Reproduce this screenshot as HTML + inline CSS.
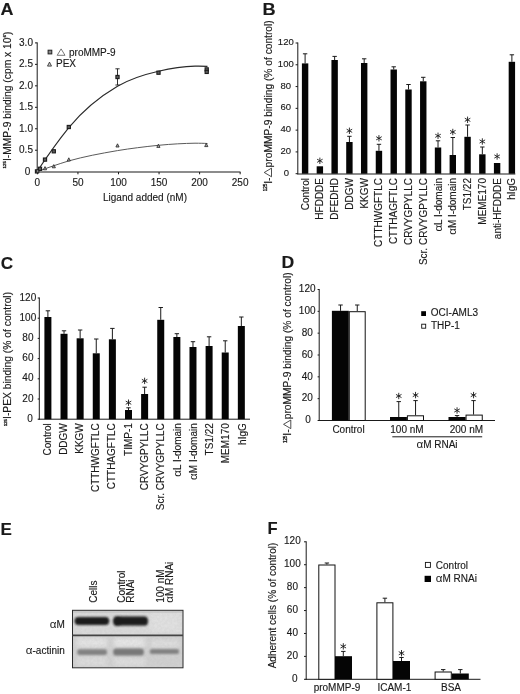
<!DOCTYPE html>
<html><head><meta charset="utf-8"><title>Figure</title>
<style>
html,body{margin:0;padding:0;background:#fff;}
body{width:520px;height:694px;overflow:hidden;}
svg{display:block;filter:grayscale(1);}
svg text{font-family:"Liberation Sans",sans-serif;fill:#1a1a1a;stroke:#1a1a1a;stroke-width:0.14px;}
</style></head><body>
<svg width="520" height="694" viewBox="0 0 520 694">
<rect x="0" y="0" width="520" height="694" fill="#ffffff"/>
<text transform="translate(0.5,15.0) scale(1.09,1)" font-size="16.5" font-weight="bold">A</text>
<text transform="translate(262.6,14.6) scale(1.1,1)" font-size="16.5" font-weight="bold">B</text>
<text transform="translate(0.7,268.8) scale(1.04,1)" font-size="16.5" font-weight="bold">C</text>
<text transform="translate(281.6,267.5) scale(1.07,1)" font-size="16.5" font-weight="bold">D</text>
<text transform="translate(0.4,534.9) scale(1.03,1)" font-size="16.5" font-weight="bold">E</text>
<text transform="translate(267.4,534.3) scale(1.0,1)" font-size="16.5" font-weight="bold">F</text>
<line x1="37.20" y1="42.40" x2="37.20" y2="172.20" stroke="#1a1a1a" stroke-width="1"/>
<line x1="35.00" y1="171.70" x2="37.20" y2="171.70" stroke="#1a1a1a" stroke-width="1"/>
<text x="27.50" y="174.68" text-anchor="middle" font-size="10.0" font-weight="normal" >0</text>
<line x1="35.00" y1="150.23" x2="37.20" y2="150.23" stroke="#1a1a1a" stroke-width="1"/>
<text x="26.00" y="153.21" text-anchor="middle" font-size="10.0" font-weight="normal" >0.5</text>
<line x1="35.00" y1="128.77" x2="37.20" y2="128.77" stroke="#1a1a1a" stroke-width="1"/>
<text x="26.00" y="131.75" text-anchor="middle" font-size="10.0" font-weight="normal" >1.0</text>
<line x1="35.00" y1="107.30" x2="37.20" y2="107.30" stroke="#1a1a1a" stroke-width="1"/>
<text x="26.00" y="110.28" text-anchor="middle" font-size="10.0" font-weight="normal" >1.5</text>
<line x1="35.00" y1="85.83" x2="37.20" y2="85.83" stroke="#1a1a1a" stroke-width="1"/>
<text x="26.00" y="88.81" text-anchor="middle" font-size="10.0" font-weight="normal" >2.0</text>
<line x1="35.00" y1="64.37" x2="37.20" y2="64.37" stroke="#1a1a1a" stroke-width="1"/>
<text x="26.00" y="67.35" text-anchor="middle" font-size="10.0" font-weight="normal" >2.5</text>
<line x1="35.00" y1="42.90" x2="37.20" y2="42.90" stroke="#1a1a1a" stroke-width="1"/>
<text x="26.00" y="45.88" text-anchor="middle" font-size="10.0" font-weight="normal" >3.0</text>
<line x1="36.70" y1="172.00" x2="240.50" y2="172.00" stroke="#1a1a1a" stroke-width="1.1"/>
<line x1="37.40" y1="172.00" x2="37.40" y2="174.30" stroke="#1a1a1a" stroke-width="1"/>
<text x="37.40" y="186.10" text-anchor="middle" font-size="10.0" font-weight="normal" >0</text>
<line x1="77.95" y1="172.00" x2="77.95" y2="174.30" stroke="#1a1a1a" stroke-width="1"/>
<text x="77.95" y="186.10" text-anchor="middle" font-size="10.0" font-weight="normal" >50</text>
<line x1="118.50" y1="172.00" x2="118.50" y2="174.30" stroke="#1a1a1a" stroke-width="1"/>
<text x="118.50" y="186.10" text-anchor="middle" font-size="10.0" font-weight="normal" >100</text>
<line x1="159.05" y1="172.00" x2="159.05" y2="174.30" stroke="#1a1a1a" stroke-width="1"/>
<text x="159.05" y="186.10" text-anchor="middle" font-size="10.0" font-weight="normal" >150</text>
<line x1="199.60" y1="172.00" x2="199.60" y2="174.30" stroke="#1a1a1a" stroke-width="1"/>
<text x="199.60" y="186.10" text-anchor="middle" font-size="10.0" font-weight="normal" >200</text>
<line x1="240.15" y1="172.00" x2="240.15" y2="174.30" stroke="#1a1a1a" stroke-width="1"/>
<text x="240.15" y="186.10" text-anchor="middle" font-size="10.0" font-weight="normal" >250</text>
<text x="145.00" y="201.00" text-anchor="middle" font-size="10.0" font-weight="normal" >Ligand added (nM)</text>
<text transform="translate(10.6,168.4) rotate(-90)" font-size="10.3"><tspan font-size="4.4" dy="-4.2" stroke-width="0.3">125</tspan><tspan dy="4.2">I-MMP-9</tspan><tspan> binding (cpm x 10</tspan><tspan font-size="4.4" dy="-4.2" stroke-width="0.3">6</tspan><tspan dy="4.2">)</tspan></text>
<path d="M36.9,171.7 C 48,155 58,141 68.8,127.6 C 84,109 100,96.5 117.5,86.2 C 131,78.3 144,74.5 158.5,71.2 C 172,68 184,66.4 195,66.1 C 200,66 204,66.1 207.5,66.4" fill="none" stroke="#2a2a2a" stroke-width="1.15"/>
<path d="M36.9,171.7 C 48,167.6 58,164.2 68.8,160.9 C 84,156.6 100,153.6 117.5,150.6 C 131,148.4 144,146.8 158.5,145.3 C 172,144 184,143.4 195,143.2 C 200,143.2 204,143.3 207.5,143.5" fill="none" stroke="#5a5a5a" stroke-width="1.0"/>
<line x1="117.50" y1="68.80" x2="117.50" y2="85.00" stroke="#1a1a1a" stroke-width="0.9"/>
<line x1="115.40" y1="68.80" x2="119.60" y2="68.80" stroke="#1a1a1a" stroke-width="0.9"/>
<line x1="115.40" y1="85.00" x2="119.60" y2="85.00" stroke="#1a1a1a" stroke-width="0.9"/>
<rect x="35.40" y="169.80" width="3.20" height="3.20" fill="#5c5c5c" stroke="#1c1c1c" stroke-width="1.1"/>
<rect x="38.40" y="167.20" width="3.20" height="3.20" fill="#5c5c5c" stroke="#1c1c1c" stroke-width="1.1"/>
<rect x="43.40" y="158.00" width="3.20" height="3.20" fill="#5c5c5c" stroke="#1c1c1c" stroke-width="1.1"/>
<rect x="52.20" y="149.70" width="3.20" height="3.20" fill="#5c5c5c" stroke="#1c1c1c" stroke-width="1.1"/>
<rect x="67.20" y="125.40" width="3.20" height="3.20" fill="#5c5c5c" stroke="#1c1c1c" stroke-width="1.1"/>
<rect x="115.90" y="75.40" width="3.20" height="3.20" fill="#5c5c5c" stroke="#1c1c1c" stroke-width="1.1"/>
<rect x="156.90" y="71.10" width="3.20" height="3.20" fill="#5c5c5c" stroke="#1c1c1c" stroke-width="1.1"/>
<rect x="205.10" y="67.80" width="3.20" height="3.20" fill="#5c5c5c" stroke="#1c1c1c" stroke-width="1.1"/>
<rect x="205.10" y="70.30" width="3.20" height="3.20" fill="#5c5c5c" stroke="#1c1c1c" stroke-width="1.1"/>
<path d="M36.00,172.20 L39.20,172.20 L37.60,169.00 Z" fill="#aaa" stroke="#222" stroke-width="0.8"/>
<path d="M43.40,169.80 L46.60,169.80 L45.00,166.60 Z" fill="#aaa" stroke="#222" stroke-width="0.8"/>
<path d="M52.20,167.80 L55.40,167.80 L53.80,164.60 Z" fill="#aaa" stroke="#222" stroke-width="0.8"/>
<path d="M67.20,161.00 L70.40,161.00 L68.80,157.80 Z" fill="#aaa" stroke="#222" stroke-width="0.8"/>
<path d="M115.90,147.00 L119.10,147.00 L117.50,143.80 Z" fill="#aaa" stroke="#222" stroke-width="0.8"/>
<path d="M156.80,147.40 L160.00,147.40 L158.40,144.20 Z" fill="#aaa" stroke="#222" stroke-width="0.8"/>
<path d="M204.70,146.60 L207.90,146.60 L206.30,143.40 Z" fill="#aaa" stroke="#222" stroke-width="0.8"/>
<rect x="48.10" y="50.20" width="3.70" height="3.70" fill="#8a8a8a" stroke="#222" stroke-width="1.0"/>
<path d="M57.2,55.3 L65.0,55.3 L61.1,48.9 Z" fill="none" stroke="#555" stroke-width="0.8"/>
<text x="69.00" y="55.50" text-anchor="start" font-size="10.0" font-weight="normal" >proMMP-9</text>
<path d="M47.50,66.10 L51.50,66.10 L49.50,62.10 Z" fill="#ccc" stroke="#222" stroke-width="0.8"/>
<text x="56.00" y="66.50" text-anchor="start" font-size="10.0" font-weight="normal" >PEX</text>
<line x1="297.80" y1="42.50" x2="297.80" y2="174.20" stroke="#1a1a1a" stroke-width="1"/>
<line x1="295.60" y1="173.70" x2="297.80" y2="173.70" stroke="#1a1a1a" stroke-width="1"/>
<text x="286.40" y="175.80" text-anchor="middle" font-size="9.5" font-weight="normal" >0</text>
<line x1="295.60" y1="151.92" x2="297.80" y2="151.92" stroke="#1a1a1a" stroke-width="1"/>
<text x="285.80" y="154.02" text-anchor="middle" font-size="9.5" font-weight="normal" >20</text>
<line x1="295.60" y1="130.13" x2="297.80" y2="130.13" stroke="#1a1a1a" stroke-width="1"/>
<text x="285.80" y="132.23" text-anchor="middle" font-size="9.5" font-weight="normal" >40</text>
<line x1="295.60" y1="108.35" x2="297.80" y2="108.35" stroke="#1a1a1a" stroke-width="1"/>
<text x="285.80" y="110.45" text-anchor="middle" font-size="9.5" font-weight="normal" >60</text>
<line x1="295.60" y1="86.57" x2="297.80" y2="86.57" stroke="#1a1a1a" stroke-width="1"/>
<text x="285.80" y="88.67" text-anchor="middle" font-size="9.5" font-weight="normal" >80</text>
<line x1="295.60" y1="64.78" x2="297.80" y2="64.78" stroke="#1a1a1a" stroke-width="1"/>
<text x="285.80" y="66.88" text-anchor="middle" font-size="9.5" font-weight="normal" >100</text>
<line x1="295.60" y1="43.00" x2="297.80" y2="43.00" stroke="#1a1a1a" stroke-width="1"/>
<text x="285.80" y="45.10" text-anchor="middle" font-size="9.5" font-weight="normal" >120</text>
<line x1="297.30" y1="174.00" x2="515.30" y2="174.00" stroke="#1a1a1a" stroke-width="1.1"/>
<text transform="translate(308.60,178.00) rotate(-90)" text-anchor="end" font-size="10.0" font-weight="normal" >Control</text>
<text transform="translate(323.37,178.00) rotate(-90)" text-anchor="end" font-size="10.0" font-weight="normal" >HFDDDE</text>
<text transform="translate(338.14,178.00) rotate(-90)" text-anchor="end" font-size="10.0" font-weight="normal" >DFEDHD</text>
<text transform="translate(352.91,178.00) rotate(-90)" text-anchor="end" font-size="10.0" font-weight="normal" >DDGW</text>
<text transform="translate(367.68,178.00) rotate(-90)" text-anchor="end" font-size="10.0" font-weight="normal" >KKGW</text>
<text transform="translate(382.45,178.00) rotate(-90)" text-anchor="end" font-size="10.0" font-weight="normal" >CTTHWGFTLC</text>
<text transform="translate(397.22,178.00) rotate(-90)" text-anchor="end" font-size="10.0" font-weight="normal" >CTTHAGFTLC</text>
<text transform="translate(411.99,178.00) rotate(-90)" text-anchor="end" font-size="10.0" font-weight="normal" >CRVYGPYLLC</text>
<text transform="translate(426.76,178.00) rotate(-90)" text-anchor="end" font-size="10.0" font-weight="normal" >Scr. CRVYGPYLLC</text>
<text transform="translate(441.53,178.00) rotate(-90)" text-anchor="end" font-size="10.0" font-weight="normal" ><tspan font-size="11.6" stroke-width="0">α</tspan>L I-domain</text>
<text transform="translate(456.30,178.00) rotate(-90)" text-anchor="end" font-size="10.0" font-weight="normal" ><tspan font-size="11.6" stroke-width="0">α</tspan>M I-domain</text>
<text transform="translate(471.07,178.00) rotate(-90)" text-anchor="end" font-size="10.0" font-weight="normal" >TS1/22</text>
<text transform="translate(485.84,178.00) rotate(-90)" text-anchor="end" font-size="10.0" font-weight="normal" >MEME170</text>
<text transform="translate(500.61,178.00) rotate(-90)" text-anchor="end" font-size="10.0" font-weight="normal" >anti-HFDDDE</text>
<text transform="translate(515.38,178.00) rotate(-90)" text-anchor="end" font-size="10.0" font-weight="normal" >hIgG</text>
<line x1="305.10" y1="53.80" x2="305.10" y2="63.40" stroke="#1a1a1a" stroke-width="1"/>
<line x1="302.90" y1="53.80" x2="307.30" y2="53.80" stroke="#1a1a1a" stroke-width="1"/>
<rect x="301.90" y="63.40" width="6.40" height="110.30" fill="#050505"/>
<rect x="316.67" y="166.30" width="6.40" height="7.40" fill="#050505"/>
<line x1="319.87" y1="157.60" x2="319.87" y2="164.00" stroke="#1a1a1a" stroke-width="0.9"/>
<line x1="317.10" y1="159.20" x2="322.64" y2="162.40" stroke="#1a1a1a" stroke-width="0.9"/>
<line x1="322.64" y1="159.20" x2="317.10" y2="162.40" stroke="#1a1a1a" stroke-width="0.9"/>
<line x1="334.64" y1="56.40" x2="334.64" y2="60.00" stroke="#1a1a1a" stroke-width="1"/>
<line x1="332.44" y1="56.40" x2="336.84" y2="56.40" stroke="#1a1a1a" stroke-width="1"/>
<rect x="331.44" y="60.00" width="6.40" height="113.70" fill="#050505"/>
<line x1="349.41" y1="136.30" x2="349.41" y2="142.00" stroke="#1a1a1a" stroke-width="1"/>
<line x1="347.21" y1="136.30" x2="351.61" y2="136.30" stroke="#1a1a1a" stroke-width="1"/>
<rect x="346.21" y="142.00" width="6.40" height="31.70" fill="#050505"/>
<line x1="349.41" y1="127.60" x2="349.41" y2="134.00" stroke="#1a1a1a" stroke-width="0.9"/>
<line x1="346.64" y1="129.20" x2="352.18" y2="132.40" stroke="#1a1a1a" stroke-width="0.9"/>
<line x1="352.18" y1="129.20" x2="346.64" y2="132.40" stroke="#1a1a1a" stroke-width="0.9"/>
<line x1="364.18" y1="58.80" x2="364.18" y2="63.00" stroke="#1a1a1a" stroke-width="1"/>
<line x1="361.98" y1="58.80" x2="366.38" y2="58.80" stroke="#1a1a1a" stroke-width="1"/>
<rect x="360.98" y="63.00" width="6.40" height="110.70" fill="#050505"/>
<line x1="378.95" y1="144.30" x2="378.95" y2="150.80" stroke="#1a1a1a" stroke-width="1"/>
<line x1="376.75" y1="144.30" x2="381.15" y2="144.30" stroke="#1a1a1a" stroke-width="1"/>
<rect x="375.75" y="150.80" width="6.40" height="22.90" fill="#050505"/>
<line x1="378.95" y1="135.10" x2="378.95" y2="141.50" stroke="#1a1a1a" stroke-width="0.9"/>
<line x1="376.18" y1="136.70" x2="381.72" y2="139.90" stroke="#1a1a1a" stroke-width="0.9"/>
<line x1="381.72" y1="136.70" x2="376.18" y2="139.90" stroke="#1a1a1a" stroke-width="0.9"/>
<line x1="393.72" y1="66.80" x2="393.72" y2="69.50" stroke="#1a1a1a" stroke-width="1"/>
<line x1="391.52" y1="66.80" x2="395.92" y2="66.80" stroke="#1a1a1a" stroke-width="1"/>
<rect x="390.52" y="69.50" width="6.40" height="104.20" fill="#050505"/>
<line x1="408.49" y1="84.50" x2="408.49" y2="89.50" stroke="#1a1a1a" stroke-width="1"/>
<line x1="406.29" y1="84.50" x2="410.69" y2="84.50" stroke="#1a1a1a" stroke-width="1"/>
<rect x="405.29" y="89.50" width="6.40" height="84.20" fill="#050505"/>
<line x1="423.26" y1="77.30" x2="423.26" y2="81.30" stroke="#1a1a1a" stroke-width="1"/>
<line x1="421.06" y1="77.30" x2="425.46" y2="77.30" stroke="#1a1a1a" stroke-width="1"/>
<rect x="420.06" y="81.30" width="6.40" height="92.40" fill="#050505"/>
<line x1="438.03" y1="140.80" x2="438.03" y2="147.50" stroke="#1a1a1a" stroke-width="1"/>
<line x1="435.83" y1="140.80" x2="440.23" y2="140.80" stroke="#1a1a1a" stroke-width="1"/>
<rect x="434.83" y="147.50" width="6.40" height="26.20" fill="#050505"/>
<line x1="438.03" y1="132.60" x2="438.03" y2="139.00" stroke="#1a1a1a" stroke-width="0.9"/>
<line x1="435.26" y1="134.20" x2="440.80" y2="137.40" stroke="#1a1a1a" stroke-width="0.9"/>
<line x1="440.80" y1="134.20" x2="435.26" y2="137.40" stroke="#1a1a1a" stroke-width="0.9"/>
<line x1="452.80" y1="137.50" x2="452.80" y2="155.00" stroke="#1a1a1a" stroke-width="1"/>
<line x1="450.60" y1="137.50" x2="455.00" y2="137.50" stroke="#1a1a1a" stroke-width="1"/>
<rect x="449.60" y="155.00" width="6.40" height="18.70" fill="#050505"/>
<line x1="452.80" y1="128.80" x2="452.80" y2="135.20" stroke="#1a1a1a" stroke-width="0.9"/>
<line x1="450.03" y1="130.40" x2="455.57" y2="133.60" stroke="#1a1a1a" stroke-width="0.9"/>
<line x1="455.57" y1="130.40" x2="450.03" y2="133.60" stroke="#1a1a1a" stroke-width="0.9"/>
<line x1="467.57" y1="125.00" x2="467.57" y2="136.80" stroke="#1a1a1a" stroke-width="1"/>
<line x1="465.37" y1="125.00" x2="469.77" y2="125.00" stroke="#1a1a1a" stroke-width="1"/>
<rect x="464.37" y="136.80" width="6.40" height="36.90" fill="#050505"/>
<line x1="467.57" y1="116.60" x2="467.57" y2="123.00" stroke="#1a1a1a" stroke-width="0.9"/>
<line x1="464.80" y1="118.20" x2="470.34" y2="121.40" stroke="#1a1a1a" stroke-width="0.9"/>
<line x1="470.34" y1="118.20" x2="464.80" y2="121.40" stroke="#1a1a1a" stroke-width="0.9"/>
<line x1="482.34" y1="147.00" x2="482.34" y2="154.30" stroke="#1a1a1a" stroke-width="1"/>
<line x1="480.14" y1="147.00" x2="484.54" y2="147.00" stroke="#1a1a1a" stroke-width="1"/>
<rect x="479.14" y="154.30" width="6.40" height="19.40" fill="#050505"/>
<line x1="482.34" y1="138.30" x2="482.34" y2="144.70" stroke="#1a1a1a" stroke-width="0.9"/>
<line x1="479.57" y1="139.90" x2="485.11" y2="143.10" stroke="#1a1a1a" stroke-width="0.9"/>
<line x1="485.11" y1="139.90" x2="479.57" y2="143.10" stroke="#1a1a1a" stroke-width="0.9"/>
<rect x="493.91" y="163.00" width="6.40" height="10.70" fill="#050505"/>
<line x1="497.11" y1="153.30" x2="497.11" y2="159.70" stroke="#1a1a1a" stroke-width="0.9"/>
<line x1="494.34" y1="154.90" x2="499.88" y2="158.10" stroke="#1a1a1a" stroke-width="0.9"/>
<line x1="499.88" y1="154.90" x2="494.34" y2="158.10" stroke="#1a1a1a" stroke-width="0.9"/>
<line x1="511.88" y1="54.80" x2="511.88" y2="61.80" stroke="#1a1a1a" stroke-width="1"/>
<line x1="509.68" y1="54.80" x2="514.08" y2="54.80" stroke="#1a1a1a" stroke-width="1"/>
<rect x="508.68" y="61.80" width="6.40" height="111.90" fill="#050505"/>
<g transform="translate(271.70,191.30) rotate(-90)" font-size="10.23"><text x="0" y="0"><tspan font-size="4.50" dy="-4.30" stroke-width="0.3">125</tspan><tspan dy="4.30">I-</tspan></text><path d="M14.51,-0.2 L23.13,-0.2 L18.82,-7.47 Z" fill="none" stroke="#222" stroke-width="0.8"/><text x="23.93" y="0">proMMP-9 binding (% of control)</text></g>
<line x1="39.30" y1="297.50" x2="39.30" y2="419.70" stroke="#1a1a1a" stroke-width="1"/>
<line x1="37.70" y1="419.20" x2="39.30" y2="419.20" stroke="#1a1a1a" stroke-width="1"/>
<text x="30.00" y="421.78" text-anchor="middle" font-size="10.0" font-weight="normal" >0</text>
<line x1="37.70" y1="399.00" x2="39.30" y2="399.00" stroke="#1a1a1a" stroke-width="1"/>
<text x="27.90" y="401.58" text-anchor="middle" font-size="10.0" font-weight="normal" >20</text>
<line x1="37.70" y1="378.80" x2="39.30" y2="378.80" stroke="#1a1a1a" stroke-width="1"/>
<text x="27.90" y="381.38" text-anchor="middle" font-size="10.0" font-weight="normal" >40</text>
<line x1="37.70" y1="358.60" x2="39.30" y2="358.60" stroke="#1a1a1a" stroke-width="1"/>
<text x="27.90" y="361.18" text-anchor="middle" font-size="10.0" font-weight="normal" >60</text>
<line x1="37.70" y1="338.40" x2="39.30" y2="338.40" stroke="#1a1a1a" stroke-width="1"/>
<text x="27.90" y="340.98" text-anchor="middle" font-size="10.0" font-weight="normal" >80</text>
<line x1="37.70" y1="318.20" x2="39.30" y2="318.20" stroke="#1a1a1a" stroke-width="1"/>
<text x="27.90" y="320.78" text-anchor="middle" font-size="10.0" font-weight="normal" >100</text>
<line x1="37.70" y1="298.00" x2="39.30" y2="298.00" stroke="#1a1a1a" stroke-width="1"/>
<text x="27.90" y="300.58" text-anchor="middle" font-size="10.0" font-weight="normal" >120</text>
<line x1="38.80" y1="419.20" x2="250.00" y2="419.20" stroke="#1a1a1a" stroke-width="1"/>
<text transform="translate(51.00,423.20) rotate(-90)" text-anchor="end" font-size="10.0" font-weight="normal" >Control</text>
<text transform="translate(67.12,423.20) rotate(-90)" text-anchor="end" font-size="10.0" font-weight="normal" >DDGW</text>
<text transform="translate(83.24,423.20) rotate(-90)" text-anchor="end" font-size="10.0" font-weight="normal" >KKGW</text>
<text transform="translate(99.36,423.20) rotate(-90)" text-anchor="end" font-size="10.0" font-weight="normal" >CTTHWGFTLC</text>
<text transform="translate(115.48,423.20) rotate(-90)" text-anchor="end" font-size="10.0" font-weight="normal" >CTTHAGFTLC</text>
<text transform="translate(131.60,423.20) rotate(-90)" text-anchor="end" font-size="10.0" font-weight="normal" >TIMP-1</text>
<text transform="translate(147.72,423.20) rotate(-90)" text-anchor="end" font-size="10.0" font-weight="normal" >CRVYGPYLLC</text>
<text transform="translate(163.84,423.20) rotate(-90)" text-anchor="end" font-size="10.0" font-weight="normal" >Scr. CRVYGPYLLC</text>
<text transform="translate(181.06,423.20) rotate(-90)" text-anchor="end" font-size="10.0" font-weight="normal" ><tspan font-size="11.6" stroke-width="0">α</tspan>L I-domain</text>
<text transform="translate(197.18,423.20) rotate(-90)" text-anchor="end" font-size="10.0" font-weight="normal" ><tspan font-size="11.6" stroke-width="0">α</tspan>M I-domain</text>
<text transform="translate(213.30,423.20) rotate(-90)" text-anchor="end" font-size="10.0" font-weight="normal" >TS1/22</text>
<text transform="translate(229.42,423.20) rotate(-90)" text-anchor="end" font-size="10.0" font-weight="normal" >MEM170</text>
<text transform="translate(245.54,423.20) rotate(-90)" text-anchor="end" font-size="10.0" font-weight="normal" >hIgG</text>
<line x1="47.90" y1="310.80" x2="47.90" y2="317.00" stroke="#1a1a1a" stroke-width="1"/>
<line x1="45.70" y1="310.80" x2="50.10" y2="310.80" stroke="#1a1a1a" stroke-width="1"/>
<rect x="44.40" y="317.00" width="7.00" height="102.20" fill="#050505"/>
<line x1="64.02" y1="330.80" x2="64.02" y2="333.80" stroke="#1a1a1a" stroke-width="1"/>
<line x1="61.82" y1="330.80" x2="66.22" y2="330.80" stroke="#1a1a1a" stroke-width="1"/>
<rect x="60.52" y="333.80" width="7.00" height="85.40" fill="#050505"/>
<line x1="80.14" y1="330.00" x2="80.14" y2="338.30" stroke="#1a1a1a" stroke-width="1"/>
<line x1="77.94" y1="330.00" x2="82.34" y2="330.00" stroke="#1a1a1a" stroke-width="1"/>
<rect x="76.64" y="338.30" width="7.00" height="80.90" fill="#050505"/>
<line x1="96.26" y1="339.00" x2="96.26" y2="353.30" stroke="#1a1a1a" stroke-width="1"/>
<line x1="94.06" y1="339.00" x2="98.46" y2="339.00" stroke="#1a1a1a" stroke-width="1"/>
<rect x="92.76" y="353.30" width="7.00" height="65.90" fill="#050505"/>
<line x1="112.38" y1="328.40" x2="112.38" y2="339.30" stroke="#1a1a1a" stroke-width="1"/>
<line x1="110.18" y1="328.40" x2="114.58" y2="328.40" stroke="#1a1a1a" stroke-width="1"/>
<rect x="108.88" y="339.30" width="7.00" height="79.90" fill="#050505"/>
<line x1="128.50" y1="407.80" x2="128.50" y2="410.00" stroke="#1a1a1a" stroke-width="1"/>
<line x1="126.30" y1="407.80" x2="130.70" y2="407.80" stroke="#1a1a1a" stroke-width="1"/>
<rect x="125.00" y="410.00" width="7.00" height="9.20" fill="#050505"/>
<line x1="128.50" y1="399.50" x2="128.50" y2="405.90" stroke="#1a1a1a" stroke-width="0.9"/>
<line x1="125.73" y1="401.10" x2="131.27" y2="404.30" stroke="#1a1a1a" stroke-width="0.9"/>
<line x1="131.27" y1="401.10" x2="125.73" y2="404.30" stroke="#1a1a1a" stroke-width="0.9"/>
<line x1="144.62" y1="387.20" x2="144.62" y2="394.00" stroke="#1a1a1a" stroke-width="1"/>
<line x1="142.42" y1="387.20" x2="146.82" y2="387.20" stroke="#1a1a1a" stroke-width="1"/>
<rect x="141.12" y="394.00" width="7.00" height="25.20" fill="#050505"/>
<line x1="144.62" y1="377.70" x2="144.62" y2="384.10" stroke="#1a1a1a" stroke-width="0.9"/>
<line x1="141.85" y1="379.30" x2="147.39" y2="382.50" stroke="#1a1a1a" stroke-width="0.9"/>
<line x1="147.39" y1="379.30" x2="141.85" y2="382.50" stroke="#1a1a1a" stroke-width="0.9"/>
<line x1="160.74" y1="307.50" x2="160.74" y2="319.80" stroke="#1a1a1a" stroke-width="1"/>
<line x1="158.54" y1="307.50" x2="162.94" y2="307.50" stroke="#1a1a1a" stroke-width="1"/>
<rect x="157.24" y="319.80" width="7.00" height="99.40" fill="#050505"/>
<line x1="176.86" y1="333.70" x2="176.86" y2="337.00" stroke="#1a1a1a" stroke-width="1"/>
<line x1="174.66" y1="333.70" x2="179.06" y2="333.70" stroke="#1a1a1a" stroke-width="1"/>
<rect x="173.36" y="337.00" width="7.00" height="82.20" fill="#050505"/>
<line x1="192.98" y1="341.70" x2="192.98" y2="347.00" stroke="#1a1a1a" stroke-width="1"/>
<line x1="190.78" y1="341.70" x2="195.18" y2="341.70" stroke="#1a1a1a" stroke-width="1"/>
<rect x="189.48" y="347.00" width="7.00" height="72.20" fill="#050505"/>
<line x1="209.10" y1="336.80" x2="209.10" y2="346.00" stroke="#1a1a1a" stroke-width="1"/>
<line x1="206.90" y1="336.80" x2="211.30" y2="336.80" stroke="#1a1a1a" stroke-width="1"/>
<rect x="205.60" y="346.00" width="7.00" height="73.20" fill="#050505"/>
<line x1="225.22" y1="340.80" x2="225.22" y2="352.50" stroke="#1a1a1a" stroke-width="1"/>
<line x1="223.02" y1="340.80" x2="227.42" y2="340.80" stroke="#1a1a1a" stroke-width="1"/>
<rect x="221.72" y="352.50" width="7.00" height="66.70" fill="#050505"/>
<line x1="241.34" y1="317.00" x2="241.34" y2="326.00" stroke="#1a1a1a" stroke-width="1"/>
<line x1="239.14" y1="317.00" x2="243.54" y2="317.00" stroke="#1a1a1a" stroke-width="1"/>
<rect x="237.84" y="326.00" width="7.00" height="93.20" fill="#050505"/>
<text transform="translate(10.8,426.3) rotate(-90)" font-size="10.3"><tspan font-size="4.4" dy="-4.2" stroke-width="0.3">125</tspan><tspan dy="4.2">I-PEX binding (% of control)</tspan></text>
<line x1="319.20" y1="289.00" x2="319.20" y2="421.00" stroke="#1a1a1a" stroke-width="1"/>
<line x1="317.60" y1="420.50" x2="319.20" y2="420.50" stroke="#1a1a1a" stroke-width="1"/>
<text x="308.00" y="423.28" text-anchor="middle" font-size="10.0" font-weight="normal" >0</text>
<line x1="317.60" y1="398.67" x2="319.20" y2="398.67" stroke="#1a1a1a" stroke-width="1"/>
<text x="307.20" y="401.45" text-anchor="middle" font-size="10.0" font-weight="normal" >20</text>
<line x1="317.60" y1="376.83" x2="319.20" y2="376.83" stroke="#1a1a1a" stroke-width="1"/>
<text x="307.20" y="379.61" text-anchor="middle" font-size="10.0" font-weight="normal" >40</text>
<line x1="317.60" y1="355.00" x2="319.20" y2="355.00" stroke="#1a1a1a" stroke-width="1"/>
<text x="307.20" y="357.78" text-anchor="middle" font-size="10.0" font-weight="normal" >60</text>
<line x1="317.60" y1="333.17" x2="319.20" y2="333.17" stroke="#1a1a1a" stroke-width="1"/>
<text x="307.20" y="335.95" text-anchor="middle" font-size="10.0" font-weight="normal" >80</text>
<line x1="317.60" y1="311.33" x2="319.20" y2="311.33" stroke="#1a1a1a" stroke-width="1"/>
<text x="307.20" y="314.11" text-anchor="middle" font-size="10.0" font-weight="normal" >100</text>
<line x1="317.60" y1="289.50" x2="319.20" y2="289.50" stroke="#1a1a1a" stroke-width="1"/>
<text x="307.20" y="292.28" text-anchor="middle" font-size="10.0" font-weight="normal" >120</text>
<line x1="318.70" y1="420.50" x2="495.00" y2="420.50" stroke="#1a1a1a" stroke-width="1"/>
<line x1="340.55" y1="305.00" x2="340.55" y2="310.80" stroke="#1a1a1a" stroke-width="1"/>
<line x1="338.35" y1="305.00" x2="342.75" y2="305.00" stroke="#1a1a1a" stroke-width="1"/>
<rect x="331.90" y="310.80" width="16.90" height="109.70" fill="#050505"/>
<line x1="357.25" y1="305.00" x2="357.25" y2="311.20" stroke="#1a1a1a" stroke-width="1"/>
<line x1="355.05" y1="305.00" x2="359.45" y2="305.00" stroke="#1a1a1a" stroke-width="1"/>
<rect x="349.30" y="311.70" width="15.90" height="108.80" fill="#fff" stroke="#111" stroke-width="1"/>
<line x1="398.75" y1="401.60" x2="398.75" y2="417.00" stroke="#1a1a1a" stroke-width="1"/>
<line x1="396.55" y1="401.60" x2="400.95" y2="401.60" stroke="#1a1a1a" stroke-width="1"/>
<rect x="390.00" y="417.00" width="16.90" height="3.50" fill="#050505"/>
<line x1="398.75" y1="392.80" x2="398.75" y2="399.20" stroke="#1a1a1a" stroke-width="0.9"/>
<line x1="395.98" y1="394.40" x2="401.52" y2="397.60" stroke="#1a1a1a" stroke-width="0.9"/>
<line x1="401.52" y1="394.40" x2="395.98" y2="397.60" stroke="#1a1a1a" stroke-width="0.9"/>
<line x1="415.55" y1="400.60" x2="415.55" y2="415.30" stroke="#1a1a1a" stroke-width="1"/>
<line x1="413.35" y1="400.60" x2="417.75" y2="400.60" stroke="#1a1a1a" stroke-width="1"/>
<rect x="407.40" y="415.80" width="16.10" height="4.70" fill="#fff" stroke="#111" stroke-width="1"/>
<line x1="415.55" y1="391.90" x2="415.55" y2="398.30" stroke="#1a1a1a" stroke-width="0.9"/>
<line x1="412.78" y1="393.50" x2="418.32" y2="396.70" stroke="#1a1a1a" stroke-width="0.9"/>
<line x1="418.32" y1="393.50" x2="412.78" y2="396.70" stroke="#1a1a1a" stroke-width="0.9"/>
<line x1="457.05" y1="415.60" x2="457.05" y2="417.00" stroke="#1a1a1a" stroke-width="1"/>
<line x1="454.85" y1="415.60" x2="459.25" y2="415.60" stroke="#1a1a1a" stroke-width="1"/>
<rect x="448.50" y="417.00" width="17.10" height="3.50" fill="#050505"/>
<line x1="457.05" y1="407.30" x2="457.05" y2="413.70" stroke="#1a1a1a" stroke-width="0.9"/>
<line x1="454.28" y1="408.90" x2="459.82" y2="412.10" stroke="#1a1a1a" stroke-width="0.9"/>
<line x1="459.82" y1="408.90" x2="454.28" y2="412.10" stroke="#1a1a1a" stroke-width="0.9"/>
<line x1="473.55" y1="400.60" x2="473.55" y2="414.60" stroke="#1a1a1a" stroke-width="1"/>
<line x1="471.35" y1="400.60" x2="475.75" y2="400.60" stroke="#1a1a1a" stroke-width="1"/>
<rect x="466.05" y="415.10" width="16.20" height="5.40" fill="#fff" stroke="#111" stroke-width="1"/>
<line x1="473.55" y1="391.90" x2="473.55" y2="398.30" stroke="#1a1a1a" stroke-width="0.9"/>
<line x1="470.78" y1="393.50" x2="476.32" y2="396.70" stroke="#1a1a1a" stroke-width="0.9"/>
<line x1="476.32" y1="393.50" x2="470.78" y2="396.70" stroke="#1a1a1a" stroke-width="0.9"/>
<text x="348.50" y="432.60" text-anchor="middle" font-size="10.0" font-weight="normal" >Control</text>
<text x="407.00" y="432.60" text-anchor="middle" font-size="10.0" font-weight="normal" >100 nM</text>
<text x="466.40" y="432.60" text-anchor="middle" font-size="10.0" font-weight="normal" >200 nM</text>
<line x1="392.30" y1="436.80" x2="482.20" y2="436.80" stroke="#1a1a1a" stroke-width="1"/>
<text x="437.00" y="448.20" text-anchor="middle" font-size="10.0" font-weight="normal" ><tspan font-size="11.6" stroke-width="0">α</tspan>M RNAi</text>
<rect x="421.20" y="311.20" width="4.80" height="4.80" fill="#000"/>
<text x="430.80" y="316.30" text-anchor="start" font-size="10.0" font-weight="normal" >OCI-AML3</text>
<rect x="421.70" y="324.20" width="4.00" height="4.00" fill="#fff" stroke="#111" stroke-width="0.9"/>
<text x="431.00" y="328.50" text-anchor="start" font-size="10.0" font-weight="normal" >THP-1</text>
<g transform="translate(291.00,443.10) rotate(-90)" font-size="10.21"><text x="0" y="0"><tspan font-size="4.49" dy="-4.29" stroke-width="0.3">125</tspan><tspan dy="4.29">I-</tspan></text><path d="M14.49,-0.2 L23.08,-0.2 L18.78,-7.45 Z" fill="none" stroke="#222" stroke-width="0.8"/><text x="23.88" y="0">proMMP-9 binding (% of control)</text></g>
<defs><filter id="bl1" x="-10%" y="-50%" width="120%" height="200%"><feGaussianBlur stdDeviation="0.9"/></filter><filter id="bl2" x="-10%" y="-80%" width="120%" height="260%"><feGaussianBlur stdDeviation="1.3"/></filter><filter id="bl3" x="-20%" y="-20%" width="140%" height="140%"><feGaussianBlur stdDeviation="2.2"/></filter><filter id="nz" x="0" y="0" width="100%" height="100%"><feTurbulence type="fractalNoise" baseFrequency="0.4" numOctaves="2" seed="7"/><feColorMatrix type="matrix" values="0 0 0 0 0.45  0 0 0 0 0.45  0 0 0 0 0.45  1.0 0 0 0 -0.3"/></filter><clipPath id="cpE"><rect x="72.5" y="610.3" width="110.5" height="57.5"/></clipPath></defs>
<g clip-path="url(#cpE)">
<rect x="72.50" y="610.30" width="110.50" height="25.20" fill="#d9d9d9"/>
<rect x="72.50" y="635.50" width="110.50" height="32.30" fill="#d0d0d0"/>
<g filter="url(#bl3)"><rect x="77" y="638" width="30" height="9" fill="#e4e4e4"/><rect x="114" y="638" width="31" height="9" fill="#e6e6e6"/><rect x="151" y="640" width="28" height="7" fill="#dedede"/><rect x="77" y="657" width="30" height="9" fill="#dcdcdc"/><rect x="114" y="658" width="31" height="8" fill="#dedede"/><rect x="150" y="612" width="31" height="20" fill="#e0e0e0"/></g>
<rect x="72.5" y="610.3" width="110.5" height="57.5" filter="url(#nz)" opacity="0.3"/>
<rect x="73" y="610.8" width="109.5" height="2.0" fill="#bdbdbd" opacity="0.6"/>
<g filter="url(#bl1)"><rect x="74.6" y="617.1" width="34.6" height="7.8" rx="3.7" fill="#1c1c1c"/><rect x="113.2" y="616.6" width="34.8" height="9" rx="3.9" fill="#1c1c1c"/><rect x="113.4" y="616.2" width="9" height="9.8" rx="4" fill="#1c1c1c"/></g>
<g filter="url(#bl2)"><rect x="77.2" y="649.3" width="29.8" height="5.8" rx="2.4" fill="#828282"/><rect x="113.3" y="648.4" width="30.5" height="7.2" rx="2.8" fill="#787878"/><rect x="149.8" y="648.9" width="29.2" height="5.2" rx="2.2" fill="#828282"/></g>
</g>
<rect x="72.5" y="610.3" width="110.5" height="57.5" fill="none" stroke="#2a2a2a" stroke-width="1"/>
<line x1="72.50" y1="635.40" x2="183.00" y2="635.40" stroke="#444" stroke-width="1.9"/>
<text x="64.80" y="627.90" text-anchor="end" font-size="10.0" font-weight="normal" ><tspan font-size="11.6" stroke-width="0">α</tspan>M</text>
<text x="25.80" y="653.70" text-anchor="start" font-size="10.0" font-weight="normal" ><tspan font-size="11.6" stroke-width="0">α</tspan>-actinin</text>
<text transform="translate(96.70,602.80) rotate(-90)" text-anchor="start" font-size="10.0" font-weight="normal" >Cells</text>
<text transform="translate(125.00,602.80) rotate(-90)" text-anchor="start" font-size="10.0" font-weight="normal" >Control</text>
<text transform="translate(134.30,602.80) rotate(-90)" text-anchor="start" font-size="10.0" font-weight="normal" >RNAi</text>
<text transform="translate(163.50,602.80) rotate(-90)" text-anchor="start" font-size="10.0" font-weight="normal" >100 nM</text>
<text transform="translate(172.60,602.80) rotate(-90)" text-anchor="start" font-size="10.0" font-weight="normal" ><tspan font-size="11.6" stroke-width="0">α</tspan>M RNAi</text>
<line x1="306.20" y1="541.30" x2="306.20" y2="679.80" stroke="#1a1a1a" stroke-width="1"/>
<line x1="304.00" y1="679.30" x2="306.20" y2="679.30" stroke="#1a1a1a" stroke-width="1"/>
<text x="294.70" y="681.98" text-anchor="middle" font-size="10.0" font-weight="normal" >0</text>
<line x1="304.00" y1="656.38" x2="306.20" y2="656.38" stroke="#1a1a1a" stroke-width="1"/>
<text x="292.40" y="659.06" text-anchor="middle" font-size="10.0" font-weight="normal" >20</text>
<line x1="304.00" y1="633.47" x2="306.20" y2="633.47" stroke="#1a1a1a" stroke-width="1"/>
<text x="292.40" y="636.15" text-anchor="middle" font-size="10.0" font-weight="normal" >40</text>
<line x1="304.00" y1="610.55" x2="306.20" y2="610.55" stroke="#1a1a1a" stroke-width="1"/>
<text x="292.40" y="613.23" text-anchor="middle" font-size="10.0" font-weight="normal" >60</text>
<line x1="304.00" y1="587.63" x2="306.20" y2="587.63" stroke="#1a1a1a" stroke-width="1"/>
<text x="292.40" y="590.31" text-anchor="middle" font-size="10.0" font-weight="normal" >80</text>
<line x1="304.00" y1="564.72" x2="306.20" y2="564.72" stroke="#1a1a1a" stroke-width="1"/>
<text x="292.40" y="567.40" text-anchor="middle" font-size="10.0" font-weight="normal" >100</text>
<line x1="304.00" y1="541.80" x2="306.20" y2="541.80" stroke="#1a1a1a" stroke-width="1"/>
<text x="292.40" y="544.48" text-anchor="middle" font-size="10.0" font-weight="normal" >120</text>
<line x1="305.70" y1="679.30" x2="480.50" y2="679.30" stroke="#1a1a1a" stroke-width="1"/>
<line x1="326.90" y1="563.00" x2="326.90" y2="564.50" stroke="#1a1a1a" stroke-width="1"/>
<line x1="324.70" y1="563.00" x2="329.10" y2="563.00" stroke="#1a1a1a" stroke-width="1"/>
<rect x="318.80" y="565.00" width="16.20" height="114.30" fill="#fff" stroke="#111" stroke-width="1"/>
<line x1="343.30" y1="651.40" x2="343.30" y2="656.20" stroke="#1a1a1a" stroke-width="1"/>
<line x1="341.10" y1="651.40" x2="345.50" y2="651.40" stroke="#1a1a1a" stroke-width="1"/>
<rect x="335.00" y="656.20" width="17.00" height="23.10" fill="#050505"/>
<line x1="343.30" y1="643.20" x2="343.30" y2="649.60" stroke="#1a1a1a" stroke-width="0.9"/>
<line x1="340.53" y1="644.80" x2="346.07" y2="648.00" stroke="#1a1a1a" stroke-width="0.9"/>
<line x1="346.07" y1="644.80" x2="340.53" y2="648.00" stroke="#1a1a1a" stroke-width="0.9"/>
<line x1="384.90" y1="598.20" x2="384.90" y2="602.30" stroke="#1a1a1a" stroke-width="1"/>
<line x1="382.70" y1="598.20" x2="387.10" y2="598.20" stroke="#1a1a1a" stroke-width="1"/>
<rect x="376.90" y="602.80" width="16.00" height="76.50" fill="#fff" stroke="#111" stroke-width="1"/>
<line x1="401.50" y1="657.50" x2="401.50" y2="661.00" stroke="#1a1a1a" stroke-width="1"/>
<line x1="399.30" y1="657.50" x2="403.70" y2="657.50" stroke="#1a1a1a" stroke-width="1"/>
<rect x="393.00" y="661.00" width="17.00" height="18.30" fill="#050505"/>
<line x1="401.50" y1="650.00" x2="401.50" y2="656.40" stroke="#1a1a1a" stroke-width="0.9"/>
<line x1="398.73" y1="651.60" x2="404.27" y2="654.80" stroke="#1a1a1a" stroke-width="0.9"/>
<line x1="404.27" y1="651.60" x2="398.73" y2="654.80" stroke="#1a1a1a" stroke-width="0.9"/>
<line x1="443.20" y1="669.60" x2="443.20" y2="671.50" stroke="#1a1a1a" stroke-width="1"/>
<line x1="441.00" y1="669.60" x2="445.40" y2="669.60" stroke="#1a1a1a" stroke-width="1"/>
<rect x="435.10" y="672.00" width="16.20" height="7.30" fill="#fff" stroke="#111" stroke-width="1"/>
<line x1="460.30" y1="669.60" x2="460.30" y2="673.50" stroke="#1a1a1a" stroke-width="1"/>
<line x1="458.10" y1="669.60" x2="462.50" y2="669.60" stroke="#1a1a1a" stroke-width="1"/>
<rect x="451.80" y="673.50" width="17.00" height="5.80" fill="#050505"/>
<text x="337.00" y="691.10" text-anchor="middle" font-size="10.0" font-weight="normal" >proMMP-9</text>
<text x="394.40" y="691.10" text-anchor="middle" font-size="10.0" font-weight="normal" >ICAM-1</text>
<text x="451.00" y="691.10" text-anchor="middle" font-size="10.0" font-weight="normal" >BSA</text>
<rect x="425.40" y="562.40" width="5.00" height="5.00" fill="#fff" stroke="#111" stroke-width="0.9"/>
<text x="435.80" y="568.80" text-anchor="start" font-size="10.0" font-weight="normal" >Control</text>
<rect x="424.60" y="575.80" width="6.40" height="6.20" fill="#000"/>
<text x="435.80" y="582.40" text-anchor="start" font-size="10.0" font-weight="normal" ><tspan font-size="11.6" stroke-width="0">α</tspan>M RNAi</text>
<text transform="translate(276.00,668.30) rotate(-90)" text-anchor="start" font-size="10.0" font-weight="normal" >Adherent cells (% of control)</text>
</svg>
</body></html>
